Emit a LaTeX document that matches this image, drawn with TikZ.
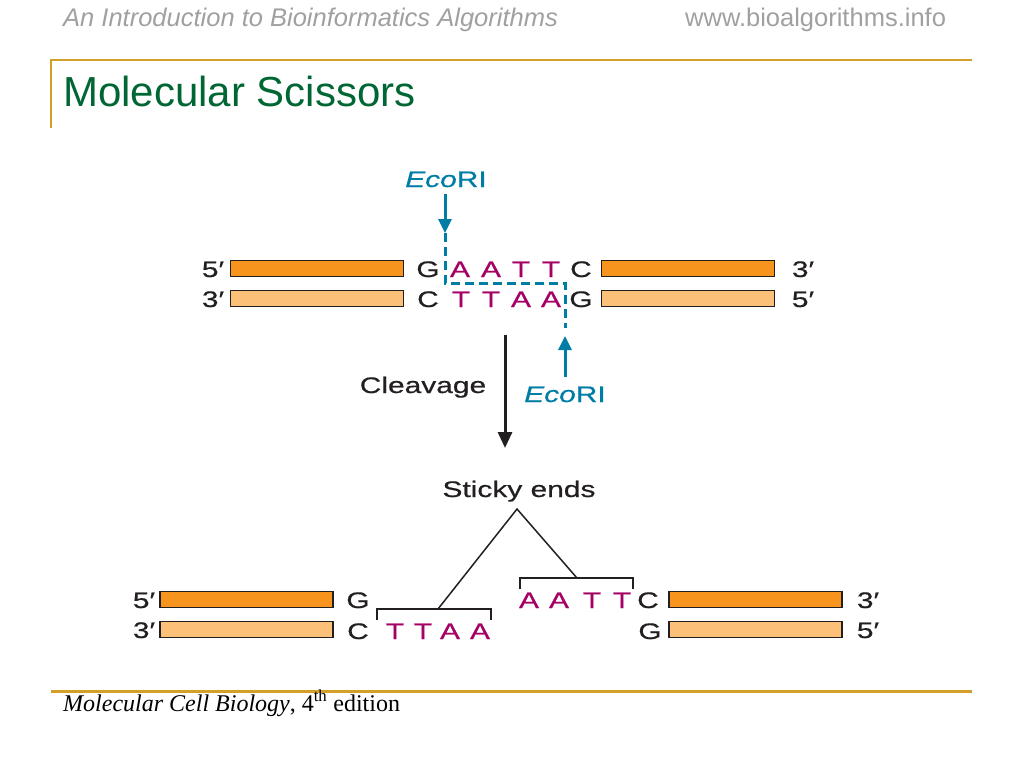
\documentclass[tikz,border=0pt]{standalone}
\usepackage{fontspec}
\setmainfont{Liberation Sans}
\newfontfamily\footfont{Liberation Serif}
\newfontfamily\figfont[FakeStretch=1.33, FakeBold=0.6]{Liberation Sans}
\usepackage{tikz}
\usetikzlibrary{arrows.meta, calc}

\definecolor{gold}{RGB}{210,160,40}
\definecolor{titlegreen}{RGB}{0,102,51}
\definecolor{headgray}{RGB}{160,160,160}
\definecolor{darkorange}{RGB}{247,148,30}
\definecolor{lightorange}{RGB}{253,192,120}
\definecolor{enzblue}{RGB}{0,125,165}
\definecolor{basemag}{RGB}{165,0,100}
\definecolor{ink}{RGB}{35,31,32}

\begin{document}
\begin{tikzpicture}[
        x=1pt, y=-1pt,
        lbl/.style={anchor=base, inner sep=0pt, text=ink, font=\figfont\fontsize{22.5}{27}\selectfont},
        mag/.style={lbl, text=basemag},
        enz/.style={lbl, text=enzblue},
        topbar/.style={draw=ink, line width=1.4pt, fill=darkorange, minimum width=173pt, minimum height=16pt, inner sep=0pt},
        botbar/.style={topbar, fill=lightorange},
        cutarrow/.style={enzblue, line width=3pt, -{Triangle[width=13pt, length=14pt]}},
        cutline/.style={enzblue, line width=3pt, dash pattern=on 9pt off 5pt},
        bracket/.style={ink, line width=1.5pt}
    ]

        % Page frame
        \useasboundingbox (0,0) rectangle (1024,768);

        % Header, title and footer
        \node[anchor=base west, inner sep=0pt, text=headgray, font=\fontsize{25.5}{30}\selectfont\itshape] (book) at (63,27) {An Introduction to Bioinformatics Algorithms};
        \node[anchor=base west, inner sep=0pt, text=headgray, font=\fontsize{25.5}{30}\selectfont] (site) at (685,27) {www.bioalgorithms.info};
        \draw[gold, line width=2.5pt] (51,128) -- (51,60) -- (972,60);
        \node[anchor=base west, inner sep=0pt, text=titlegreen, font=\fontsize{42}{50}\selectfont] (title) at (63,106) {Molecular Scissors};
        \draw[gold, line width=3pt] (51,691) -- (972,691);
        \node[anchor=base west, inner sep=0pt, font=\fontsize{24}{28}\footfont] (ref) at (63,711) {\textit{Molecular Cell Biology}, 4\textsuperscript{th} edition};

        % Uncut DNA
        \node[topbar] (barTL) at (317,268.5) {};
        \node[botbar] (barBL) at (317,298.5) {};
        \node[topbar] (barTR) at (688,268.5) {};
        \node[botbar] (barBR) at (688,298.5) {};
        \node[lbl] (p5L) at (213,277) {5′};
        \node[lbl] (p3L) at (213,307) {3′};
        \node[lbl] (p3R) at (803,277) {3′};
        \node[lbl] (p5R) at (803,307) {5′};

        \node[lbl] (gT) at (428,277) {G};
        \node[mag] (a1T) at (460,277) {A};
        \node[mag] (a2T) at (491,277) {A};
        \node[mag] (t1T) at (521,277) {T};
        \node[mag] (t2T) at (551,277) {T};
        \node[lbl] (cT) at (581,277) {C};

        \node[lbl] (cB) at (428,307) {C};
        \node[mag] (t1B) at (461,307) {T};
        \node[mag] (t2B) at (491,307) {T};
        \node[mag] (a1B) at (521,307) {A};
        \node[mag] (a2B) at (551,307) {A};
        \node[lbl] (gB) at (581,307) {G};

        % EcoRI cuts
        \node[enz] (ecoTop) at (446,187) {\textit{Eco}RI};
        \node[enz] (ecoBot) at (565,402) {\textit{Eco}RI};
        \coordinate (cutTop) at (445,233);
        \coordinate (cutBot) at (565,336);
        \draw[cutarrow] ($(ecoTop.south)+(-1,7)$) -- (cutTop);
        \draw[cutarrow] ($(ecoBot.north)+(0,-9)$) -- (cutBot);
        \draw[cutline] (cutTop) -- (445,283) -- (565,283) -- ($(cutBot)+(0,-8)$);

        % Cleavage
        \coordinate (cleaveA) at (505,335);
        \coordinate (cleaveB) at (505,448);
        \draw[ink, line width=3pt, -{Triangle[width=14pt, length=16pt]}] (cleaveA) -- (cleaveB);
        \node[lbl] (cleave) at (423,393) {Cleavage};

        % Cut DNA with sticky ends
        \node[topbar] (barTL2) at (246.5,599.5) {};
        \node[botbar] (barBL2) at (246.5,629.5) {};
        \node[topbar] (barTR2) at (755.5,599.5) {};
        \node[botbar] (barBR2) at (755.5,629.5) {};
        \node[lbl] (q5L) at (144,608) {5′};
        \node[lbl] (q3L) at (144,638) {3′};
        \node[lbl] (q3R) at (868,608) {3′};
        \node[lbl] (q5R) at (868,638) {5′};

        \node[lbl] (gL) at (358,608) {G};
        \node[lbl] (cL) at (358,639) {C};
        \node[mag] (t1L) at (395,639) {T};
        \node[mag] (t2L) at (423,639) {T};
        \node[mag] (a1L) at (450,639) {A};
        \node[mag] (a2L) at (480,639) {A};

        \node[mag] (a1R) at (529,608) {A};
        \node[mag] (a2R) at (559,608) {A};
        \node[mag] (t1R) at (592,608) {T};
        \node[mag] (t2R) at (622,608) {T};
        \node[lbl] (cR) at (648,608) {C};
        \node[lbl] (gR) at (650,639) {G};

        % Brackets and the sticky ends label
        \draw[bracket] (377,620) -- (377,609) -- (491,609) -- (491,620);
        \draw[bracket] (520,589) -- (520,578) -- (633,578) -- (633,589);
        \coordinate (legL) at (438,609);
        \coordinate (legR) at (577,578);
        \node[lbl] (sticky) at (519,497) {Sticky ends};
        \coordinate (apex) at (517,509);
        \draw[ink, line width=1.5pt] (legL) -- (apex) -- (legR);

    \end{tikzpicture}
\end{document}
